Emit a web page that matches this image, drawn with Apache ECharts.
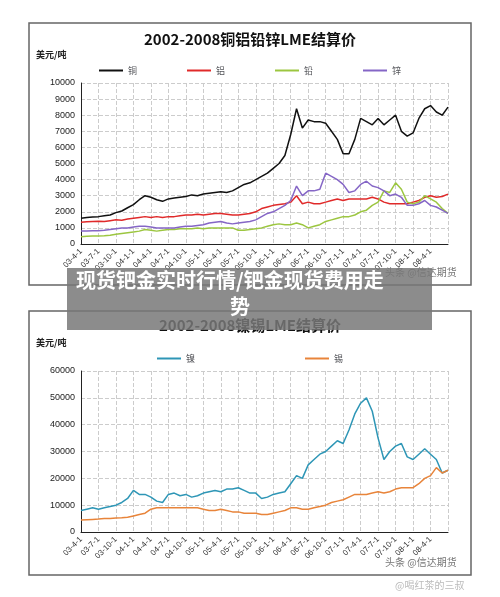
<!DOCTYPE html><html><head><meta charset="utf-8"><script src="https://cdn.jsdelivr.net/npm/echarts@6/dist/echarts.min.js"></script>
<style>body{margin:0;background:#fff}#c{width:500px;height:597px}</style></head><body><div id="c"></div><script>
const months=[];for(let y=3;y<=8;y++)for(let m=1;m<=12;m++){if(y===3&&m<4)continue;if(y===8&&m>7)continue;months.push('0'+y+'-'+m+'-1');}
const copper=[1600,1650,1680,1700,1750,1800,1950,2050,2250, 2450,2750,3000,2900,2750,2650,2800,2850,2900,2950,3050,3000, 3100,3150,3200,3250,3200,3300,3500,3700,3800,4000,4200,4400, 4700,5000,5500,6800,8400,7200,7700,7600,7600,7500,7000,6500, 5600,5600,6500,7800,7600,7400,7800,7400,7700,8000,7000,6700, 6900,7800,8400,8600,8200,8000,8500];
const aluminum=[1350,1380,1400,1420,1400,1450,1500,1480,1550, 1600,1650,1700,1650,1700,1650,1700,1700,1750,1800,1800,1850, 1800,1850,1900,1900,1850,1800,1800,1850,1900,2000,2200,2300, 2400,2450,2500,2600,3000,2500,2600,2500,2500,2600,2700,2800, 2700,2800,2800,2800,2800,2900,2800,2600,2500,2500,2500,2500, 2600,2700,2900,3000,2900,2950,3100];
const lead=[450,480,500,500,520,550,600,650,700, 750,800,900,850,800,850,900,900,950,950,950,1000, 950,1000,1000,1000,1000,1000,850,850,900,950,1000,1100, 1200,1250,1200,1200,1300,1200,1000,1100,1200,1400,1500,1600, 1700,1700,1800,2000,2100,2400,2600,3300,3200,3800,3400,2600, 2500,2600,3000,2800,2600,2200,1900];
const zinc=[800,800,820,830,850,900,950,1000,1000, 1050,1100,1100,1050,1000,1000,1000,1000,1050,1100,1100,1150, 1200,1300,1350,1400,1300,1250,1300,1350,1400,1500,1700,1900, 2000,2200,2400,2700,3600,3000,3300,3300,3400,4400,4200,4000, 3700,3200,3300,3700,3900,3600,3500,3300,3000,3100,2900,2400, 2400,2500,2700,2400,2300,2100,1900];
const nickel=[8000,8500,9000,8500,9000,9500,10000,11000,12500, 15500,14000,14000,13000,11500,11000,14000,14500,13500,14000,13000,13500, 14500,15000,15500,15000,16000,16000,16500,15500,14500,14500,12500,13000, 14000,14500,15000,18000,21000,20000,25000,27000,29000,30000,32000,34000, 33000,38000,44000,48000,50000,45000,35000,27000,30000,32000,33000,28000, 27000,29000,31000,29000,27000,22000,23000];
const tin=[4500,4600,4700,4800,5000,5000,5200,5300,5500, 6000,6500,7000,8500,9000,9000,9000,9000,9000,9000,9000,9000, 8500,8000,8000,8500,8000,7500,7500,7000,7000,7000,6500,6500, 7000,7500,8000,9000,9000,8500,8500,9000,9500,10000,11000,11500, 12000,13000,14000,14000,14000,14500,15000,14500,15000,16000,16500,16500, 16500,18000,20000,21000,24000,22000,23000];
const ch=echarts.init(document.getElementById('c'));
const F='"Noto Sans CJK SC",sans-serif';
const last=months[months.length-1];
function xa(i){return{type:'category',gridIndex:i,data:months,boundaryGap:false,
 axisLine:{lineStyle:{color:'#222'}},axisTick:{show:false},
 axisLabel:{interval:2,rotate:45,fontSize:8,color:'#333',margin:6,formatter:v=>v===last?'':v},
 splitLine:{show:true,interval:2,lineStyle:{type:'dashed',color:'#ccc'}}};}
function ya(i,max,iv){return{type:'value',gridIndex:i,min:0,max:max,interval:iv,
 axisLine:{show:true,lineStyle:{color:'#222'}},axisLabel:{fontSize:9,color:'#222',margin:6,formatter:v=>String(v)},
 splitLine:{lineStyle:{type:'dashed',color:'#ccc'}}};}
function s(n,d,c,xi){return{name:n,type:'line',data:d,xAxisIndex:xi,yAxisIndex:xi,showSymbol:false,lineStyle:{color:c,width:1.5},itemStyle:{color:c},smooth:false};}
ch.setOption({animation:false,
 grid:[{left:81,top:83,width:367,height:161},{left:81,top:371,width:367,height:161}],
 xAxis:[xa(0),xa(1)],yAxis:[ya(0,10000,1000),ya(1,60000,10000)],
 legend:[{data:['铜','铝','铅','锌'],top:61,left:'center',itemGap:50,itemWidth:24,itemHeight:2,icon:'rect',textStyle:{fontSize:9,fontFamily:F}},
  {data:['镍','锡'],top:349,left:'center',itemGap:110,itemWidth:24,itemHeight:2,icon:'rect',textStyle:{fontSize:9,fontFamily:F}}],
 series:[s('铜',copper,'#111',0),s('铝',aluminum,'#e02a2a',0),s('铅',lead,'#9cc640',0),s('锌',zinc,'#8566c6',0),
  s('镍',nickel,'#2e96b6',1),s('锡',tin,'#e8843a',1)],
 graphic:[
  {type:'rect',shape:{x:29,y:23,width:442,height:262},style:{fill:'none',stroke:'#666',lineWidth:1.5},z:-1},
  {type:'rect',shape:{x:29,y:311,width:442,height:264},style:{fill:'none',stroke:'#666',lineWidth:1.5},z:-1},
  {type:'text',left:'center',top:32,style:{text:'2002-2008铜铝铅锌LME结算价',font:'bold 15px '+F,fill:'#111'}},
  {type:'text',left:36,top:50,style:{text:'美元/吨',font:'bold 9px '+F,fill:'#222'}},
  {type:'text',left:'center',top:318,style:{text:'2002-2008镍锡LME结算价',font:'bold 15px '+F,fill:'#111'}},
  {type:'text',left:36,top:338,style:{text:'美元/吨',font:'bold 9px '+F,fill:'#222'}},
  {type:'text',left:385,top:267,style:{text:'头条 @信达期货',font:'10px '+F,fill:'#777'}},
  {type:'text',left:385,top:557,style:{text:'头条 @信达期货',font:'10px '+F,fill:'#777'}},
  {type:'text',left:395,top:580,style:{text:'@喝红茶的三叔',font:'10px '+F,fill:'#bbb'}},
  {type:'rect',shape:{x:67,y:268,width:365,height:62},style:{fill:'rgba(120,120,120,0.85)'},z:10},
  {type:'text',left:76,top:270,z:11,style:{text:'现货钯金实时行情/钯金现货费用走',font:'bold 20px '+F,fill:'#fff'}},
  {type:'text',left:230,top:296,z:11,style:{text:'势',font:'bold 20px '+F,fill:'#fff'}}
 ]});
</script></body></html>
